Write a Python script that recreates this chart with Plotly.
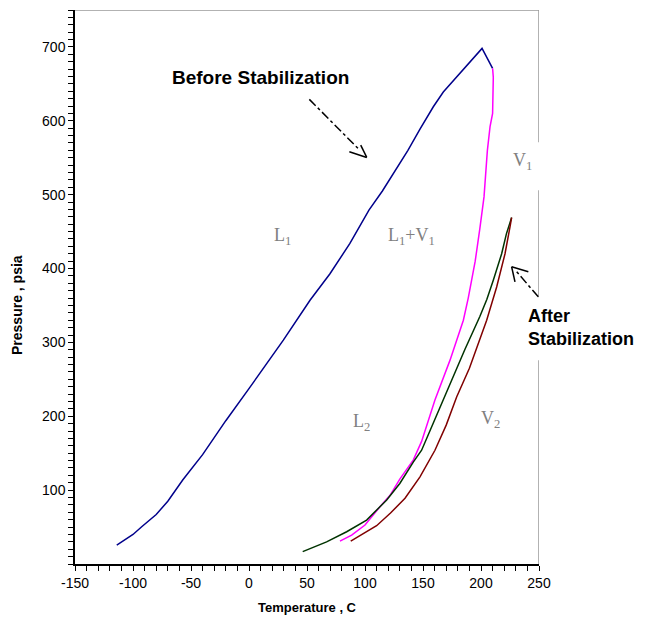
import plotly.graph_objects as go

# Before stabilization envelope: bubble-point branch (blue) and dew-point branch (magenta)
blue_T = [-114, -100, -92.5, -80, -70, -63, -57, -40, -20, 0.9, 15, 29.6, 52.6, 69.8, 87, 103.4,
          115, 125, 137, 147.4, 158.9, 167.5, 179, 190.5, 200.9, 210]
blue_P = [25.7, 40, 50.5, 67, 85, 100, 114, 148, 194, 239.5, 270, 303, 357, 393, 434, 479,
          505, 530, 560, 588.6, 619, 639, 659, 679, 698, 671]

mag_T = [210, 210.6, 210, 207.8, 205.5, 202.6, 199, 195, 189, 184.8, 173.3, 160.3, 148.8,
         141.7, 130, 121.6, 112.9, 100, 88.5, 78.4]
mag_P = [671, 659, 610, 592, 560, 497, 454, 410, 360, 330, 276, 222, 166,
         141, 115, 93, 77.5, 52.8, 39, 31]

# After stabilization envelope: green and dark red branches
green_T = [46.3, 66.9, 84.2, 101.4, 118.7, 130, 141.6, 148.8, 160, 173.3, 186, 199, 205,
           210.6, 217.8, 222, 226.4]
green_P = [16.7, 30, 43.7, 59.5, 86.6, 109, 138, 154, 195, 244.5, 290, 335, 358,
           384, 420, 447.5, 469]

red_T = [87.7, 99, 110, 122, 134.5, 147.4, 156, 160.3, 170, 179, 190, 199, 204.9,
         213.5, 220.7, 225, 226.4]
red_P = [31, 41, 51.8, 69, 89, 118, 141, 154, 188, 226, 265, 303, 330,
         375, 420, 456.5, 469]

x_ticks = [-150, -100, -50, 0, 50, 100, 150, 200, 250]
y_ticks = [100, 200, 300, 400, 500, 600, 700]

SANS = "Arial, Liberation Sans, sans-serif"
SERIF = "Times New Roman, Liberation Serif, serif"
GRAY = "#808080"

fig = go.Figure()
fig.add_trace(go.Scatter(x=blue_T, y=blue_P, mode="lines",
                         line=dict(color="#00008B", width=1.5), showlegend=False))
fig.add_trace(go.Scatter(x=mag_T, y=mag_P, mode="lines",
                         line=dict(color="#FF00FF", width=1.5), showlegend=False))
fig.add_trace(go.Scatter(x=green_T, y=green_P, mode="lines",
                         line=dict(color="#003300", width=1.5), showlegend=False))
fig.add_trace(go.Scatter(x=red_T, y=red_P, mode="lines",
                         line=dict(color="#800000", width=1.5), showlegend=False))

shapes = []
# top and right frame (gray), right side broken where text boxes sit
frame = dict(type="line", xref="x", yref="y", line=dict(color="#999999", width=1.5))
shapes.append(dict(frame, x0=-150, x1=250, y0=750, y1=750))
for y0, y1 in [(750, 571), (506, 361), (276, 0)]:
    shapes.append(dict(frame, x0=250, x1=250, y0=y0, y1=y1))

arrow = dict(type="line", xref="x", yref="y", line=dict(color="black", width=1.5))
# Before stabilization arrow
shapes.append(dict(arrow, x0=52, y0=629, x1=95, y1=561, line=dict(color="black", width=1.5, dash="dashdot")))
shapes.append(dict(arrow, x0=86.5, y0=558, x1=101.5, y1=550.4))
shapes.append(dict(arrow, x0=96.3, y0=567, x1=101.5, y1=550.4))
# After stabilization arrow
shapes.append(dict(arrow, x0=249.4, y0=361.8, x1=230.8, y1=395.6, line=dict(color="black", width=1.5, dash="dashdot")))
shapes.append(dict(arrow, x0=240.8, y0=395.6, x1=226.4, y1=402.4))
shapes.append(dict(arrow, x0=229.3, y0=382, x1=226.4, y1=402.4))

annotations = [
    dict(x=9.5, y=658, text="<b>Before Stabilization</b>", showarrow=False,
         font=dict(family=SANS, size=19, color="black"), xanchor="center", yanchor="middle"),
    dict(x=238.5, y=320, text="<b>After<br>Stabilization</b>", showarrow=False, align="left",
         font=dict(family=SANS, size=18, color="black"), xanchor="left", yanchor="middle"),
    dict(x=29.3, y=444, text="L<sub>1</sub>", showarrow=False,
         font=dict(family=SERIF, size=18, color=GRAY)),
    dict(x=139.7, y=444, text="L<sub>1</sub>+V<sub>1</sub>", showarrow=False,
         font=dict(family=SERIF, size=18, color=GRAY)),
    dict(x=236.2, y=545, text="V<sub>1</sub>", showarrow=False,
         font=dict(family=SERIF, size=18, color=GRAY)),
    dict(x=97.4, y=191, text="L<sub>2</sub>", showarrow=False,
         font=dict(family=SERIF, size=18, color=GRAY)),
    dict(x=208.6, y=196, text="V<sub>2</sub>", showarrow=False,
         font=dict(family=SERIF, size=18, color=GRAY)),
    dict(xref="paper", yref="paper", x=0.502, y=-0.0794, text="<b>Temperature , C</b>",
         showarrow=False, font=dict(family=SANS, size=13, color="black"),
         xanchor="center", yanchor="middle"),
    dict(xref="paper", yref="paper", x=-0.125, y=0.4675, text="<b>Pressure , psia</b>",
         showarrow=False, textangle=-90, font=dict(family=SANS, size=14, color="black"),
         xanchor="center", yanchor="middle"),
]

fig.update_layout(
    width=645, height=624,
    margin=dict(l=67, r=114, t=2, b=68, autoexpand=False),
    paper_bgcolor="white", plot_bgcolor="white",
    shapes=shapes, annotations=annotations,
    xaxis=dict(range=[-150, 250], tickvals=x_ticks, ticktext=[str(v) for v in x_ticks],
               showgrid=False, zeroline=False, showline=True, linecolor="black", linewidth=1.5,
               ticks="outside", ticklen=5, tickcolor="black", tickwidth=1,
               minor=dict(dtick=10, ticks="outside", ticklen=5, tickcolor="black", showgrid=False),
               tickfont=dict(family=SANS, size=14, color="black")),
    yaxis=dict(range=[0, 750], tickvals=y_ticks, ticktext=[str(v) for v in y_ticks],
               showgrid=False, zeroline=False, showline=True, linecolor="black", linewidth=1.5,
               ticks="outside", ticklen=5, tickcolor="black", tickwidth=1,
               minor=dict(dtick=10, ticks="outside", ticklen=5, tickcolor="black", showgrid=False),
               tickfont=dict(family=SANS, size=14, color="black")),
)

fig.write_html("out.html")
